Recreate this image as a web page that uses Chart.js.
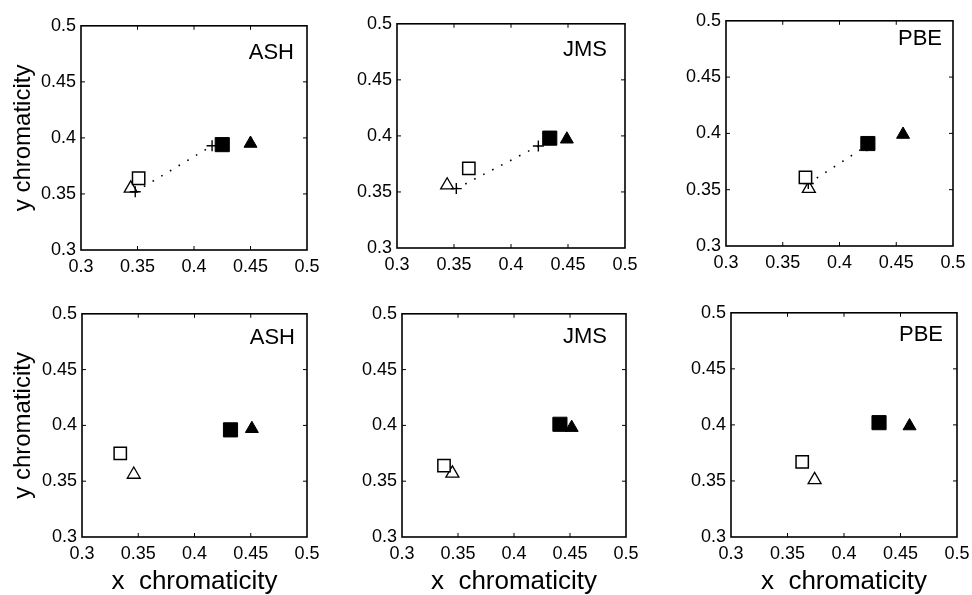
<!DOCTYPE html>
<html>
<head>
<meta charset="utf-8">
<script src="https://cdn.jsdelivr.net/npm/chart.js@4.4.0/dist/chart.umd.min.js"></script>
<style>
  html, body { margin: 0; padding: 0; background: #fff; }
  #wrap { position: relative; width: 972px; height: 595px; overflow: hidden; }
  #wrap canvas { position: absolute; }
</style>
</head>
<body>
<div id="wrap"></div>
<script>
// one panel per subject, top row = first condition, bottom row = second
const subjects = ['ASH', 'JMS', 'PBE', 'ASH', 'JMS', 'PBE'];
const axisTicks = [0.3, 0.35, 0.4, 0.45, 0.5];

// [x, y] chromaticity
const openSquares = [[0.351, 0.364], [0.363, 0.371], [0.370, 0.361], [0.334, 0.375], [0.3375, 0.364], [0.363, 0.367]];
const filledSquares = [[0.425, 0.394], [0.434, 0.398], [0.425, 0.391], [0.432, 0.396], [0.441, 0.401], [0.431, 0.402]];
const openTriangles = [[0.344, 0.355], [0.344, 0.356], [0.373, 0.351], [0.346, 0.356], [0.345, 0.357], [0.374, 0.351]];
const filledTriangles = [[0.450, 0.395], [0.449, 0.397], [0.456, 0.399], [0.451, 0.397], [0.4515, 0.398], [0.458, 0.399]];
// crosses joined by a dotted line (top row only)
const crossLines = [
    [[0.348, 0.352], [0.416, 0.393]],
    [[0.352, 0.353], [0.424, 0.391]],
    [[0.3725, 0.3555], [0.424, 0.389]],
    null, null, null
];

// plot area in page pixels [left, top, right, bottom] and label inset [right, baseline]
const panels = [
    { plot: [81, 25, 307, 250], yTitle: true, xTitle: false, label: [13, 33] },
    { plot: [397, 23, 625, 248], yTitle: false, xTitle: false, label: [18, 32] },
    { plot: [726, 20, 953, 246], yTitle: false, xTitle: false, label: [11, 24] },
    { plot: [82, 313, 307, 537], yTitle: true, xTitle: true, label: [12, 30] },
    { plot: [402, 313, 626, 537], yTitle: false, xTitle: true, label: [19, 29] },
    { plot: [731, 312, 957, 537], yTitle: false, xTitle: true, label: [14, 28] }
];

const FONT = "'Liberation Sans', Arial, Helvetica, sans-serif";
const pt = a => ({ x: a[0], y: a[1] });
const fmt = v => String(+v.toFixed(2));

// box around the plot with small inward ticks, plus the subject name
const framePlugin = {
    id: 'frame',
    afterDraw(chart) {
        const { ctx, chartArea: a, scales } = chart;
        ctx.save();
        ctx.strokeStyle = '#000';
        ctx.lineWidth = 1.6;
        ctx.strokeRect(a.left, a.top, a.right - a.left, a.bottom - a.top);
        ctx.lineWidth = 1;
        ctx.beginPath();
        axisTicks.slice(1, -1).forEach(v => {
            const px = scales.x.getPixelForValue(v);
            const py = scales.y.getPixelForValue(v);
            ctx.moveTo(px, a.bottom); ctx.lineTo(px, a.bottom - 4);
            ctx.moveTo(px, a.top); ctx.lineTo(px, a.top + 4);
            ctx.moveTo(a.left, py); ctx.lineTo(a.left + 4, py);
            ctx.moveTo(a.right, py); ctx.lineTo(a.right - 4, py);
        });
        ctx.stroke();
        const p = chart.options.plugins.frame;
        ctx.fillStyle = '#000';
        ctx.font = '22px ' + FONT;
        ctx.textAlign = 'right';
        ctx.textBaseline = 'alphabetic';
        ctx.fillText(p.text, a.right - p.inset[0], a.top + p.inset[1]);
        ctx.restore();
    }
};

function buildPanel(i) {
    const p = panels[i];
    const [l, t, r, b] = p.plot;
    const yw = p.yTitle ? l : 60;
    const xh = p.xTitle ? 600 - b : 40;
    const padTop = 15, padRight = 20;

    const canvas = document.createElement('canvas');
    canvas.width = yw + (r - l) + padRight;
    canvas.height = padTop + (b - t) + xh;
    canvas.style.left = (l - yw) + 'px';
    canvas.style.top = (t - padTop) + 'px';
    document.getElementById('wrap').appendChild(canvas);

    const datasets = [
        { data: [pt(filledTriangles[i])], pointStyle: 'triangle', pointRadius: 7.5,
          backgroundColor: '#000', borderColor: '#000', borderWidth: 1 },
        { data: [pt(filledSquares[i])], pointStyle: 'rect', pointRadius: 10,
          backgroundColor: '#000', borderColor: '#000', borderWidth: 1 },
        { data: [pt(openSquares[i])], pointStyle: 'rect', pointRadius: 8.7,
          backgroundColor: '#fff', borderColor: '#000', borderWidth: 1.5 },
        { data: [pt(openTriangles[i])], pointStyle: 'triangle', pointRadius: 7.5,
          backgroundColor: 'rgba(0,0,0,0)', borderColor: '#000', borderWidth: 1.3 }
    ];
    if (crossLines[i]) {
        datasets.push({
            data: crossLines[i].map(pt), showLine: true, order: 5,
            borderColor: '#000', borderWidth: 1.6, borderDash: [1.6, 8.5],
            pointStyle: 'cross', pointRadius: 5.5, pointBorderWidth: 1.4,
            pointBorderColor: '#000'
        });
    }

    const tickFont = { family: FONT, size: 18 };
    new Chart(canvas, {
        type: 'scatter',
        data: { datasets: datasets },
        options: {
            responsive: false,
            animation: false,
            events: [],
            layout: { padding: { top: padTop, right: padRight, left: 0, bottom: 0 } },
            plugins: {
                legend: { display: false },
                tooltip: { enabled: false },
                frame: { text: subjects[i], inset: p.label }
            },
            scales: {
                x: {
                    min: 0.3, max: 0.5,
                    grid: { display: false, drawTicks: false },
                    border: { display: false },
                    afterBuildTicks: s => { s.ticks = axisTicks.map(v => ({ value: v })); },
                    afterFit: s => { s.height = xh; },
                    ticks: { color: '#000', font: tickFont, padding: 6, maxRotation: 0, autoSkip: false, callback: fmt },
                    title: {
                        display: p.xTitle, text: 'x  chromaticity', color: '#000',
                        font: { family: FONT, size: 26 }, padding: { top: 0, bottom: 3 }
                    }
                },
                y: {
                    min: 0.3, max: 0.5,
                    grid: { display: false, drawTicks: false },
                    border: { display: false },
                    afterBuildTicks: s => { s.ticks = axisTicks.map(v => ({ value: v })); },
                    afterFit: s => { s.width = yw; },
                    ticks: { color: '#000', font: tickFont, padding: 5, autoSkip: false, callback: fmt },
                    title: {
                        display: p.yTitle, text: 'y chromaticity', color: '#000',
                        font: { family: FONT, size: 24 }, padding: { top: 9, bottom: 0 }
                    }
                }
            }
        },
        plugins: [framePlugin]
    });
}

subjects.forEach((s, i) => buildPanel(i));
</script>
</body>
</html>
